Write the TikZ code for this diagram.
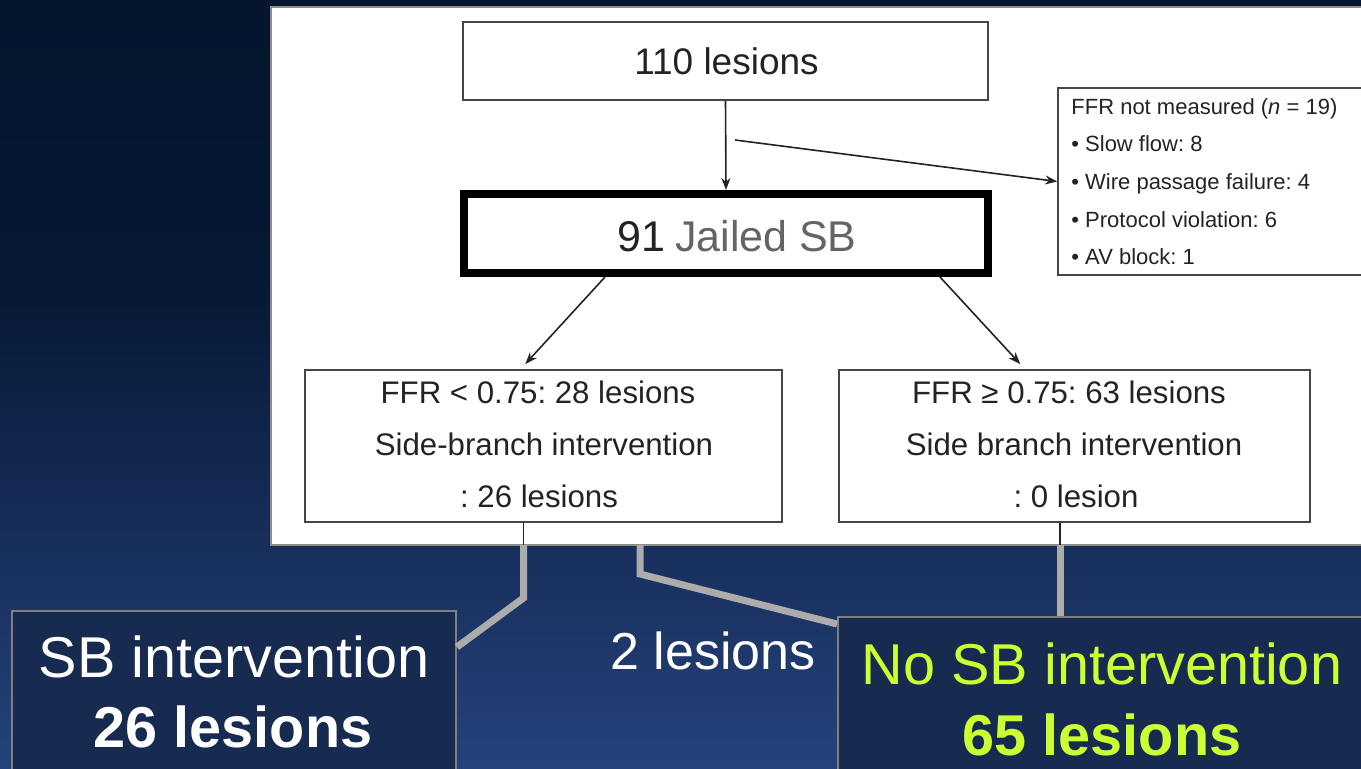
\documentclass[tikz,border=0pt]{standalone}
\usepackage{fontspec}
\setmainfont{Liberation Sans}
\usetikzlibrary{arrows.meta,calc}
\AtBeginDocument{\frenchspacing}

\definecolor{bgtop}{RGB}{5,21,46}
\definecolor{bgknee}{RGB}{7,24,52}
\definecolor{bgbot}{RGB}{37,66,124}
\definecolor{panelgrey}{RGB}{140,140,140}
\definecolor{boxgrey}{RGB}{70,70,70}
\definecolor{inkdark}{RGB}{35,35,35}
\definecolor{jailgrey}{RGB}{100,100,100}
\definecolor{conngrey}{RGB}{172,172,172}
\definecolor{slatefill}{RGB}{23,42,80}
\definecolor{slateedge}{RGB}{128,128,128}
\definecolor{lime}{RGB}{204,255,51}

% slide background: dark at the top, brightening towards the bottom
\pgfdeclareverticalshading{slidebg}{100bp}{color(0bp)=(bgbot); color(25bp)=(bgbot); color(56.8bp)=(bgknee); color(75bp)=(bgtop); color(100bp)=(bgtop)}

\tikzset{
  flowbox/.style={draw=boxgrey, line width=0.8pt, fill=white, inner sep=0pt},
  heavybox/.style={draw=black, line width=4pt, fill=white, inner sep=0pt},
  slatebox/.style={draw=slateedge, line width=1pt, fill=slatefill, inner sep=0pt},
  flow/.style={draw=inkdark, line width=0.8pt, -{Stealth[length=6pt,width=4.5pt]}},
  tick/.style={draw=inkdark, line width=0.9pt},
  gconn/.style={draw=conngrey, line width=3.5pt},
  lbl/.style={anchor=base, inner sep=0pt, text=inkdark},
}

\begin{document}
\begin{tikzpicture}[x=0.5pt, y=-0.5pt]
\useasboundingbox (0,0) rectangle (1361,769);
\clip (0,0) rectangle (1361,769);
\shade[shading=slidebg] (0,0) rectangle (1361,769);

% white flowchart panel
\path[draw=panelgrey, line width=1pt, fill=white] (271,7) rectangle (1390,545);
\coordinate (panelbase) at (271,545);

% flowchart boxes
\node[flowbox, minimum width=262.5pt, minimum height=39pt] (n110) at (725.5,61) {};
\node[heavybox, minimum width=262pt, minimum height=39.5pt] (n91) at (726,233.5) {};
\node[flowbox, minimum width=161pt, minimum height=93.5pt] (nm) at (1219,181.5) {};
\node[flowbox, minimum width=238.5pt, minimum height=76pt] (lffr) at (543.5,446) {};
\node[flowbox, minimum width=235.5pt, minimum height=76pt] (rffr) at (1074.5,446) {};

% box texts
\node[lbl, font=\fontsize{18.5}{22}\selectfont] (t110) at (726.5,75) {110 lesions};
\node[lbl, font=\fontsize{21.5}{26}\selectfont] (t91) at (737,252) {91\hspace{5pt}\textcolor{jailgrey}{Jailed SB}};

\begin{scope}[every node/.style={lbl, anchor=base west, font=\fontsize{11}{13}\selectfont}]
  \node (nm1) at (1071,115) {FFR not measured (\textit{n} = 19)};
  \node (nm2) at (1071,152) {• Slow flow: 8};
  \node (nm3) at (1071,190) {• Wire passage failure: 4};
  \node (nm4) at (1071,228) {• Protocol violation: 6};
  \node (nm5) at (1071,265) {• AV block: 1};
\end{scope}

\begin{scope}[every node/.style={lbl, font=\fontsize{15.6}{18}\selectfont}]
  \node (l1) at (538,404) {FFR < 0.75: 28 lesions};
  \node (l2) at (544,456) {Side-branch intervention};
  \node (l3) at (539,508) {: 26 lesions};
  \node (r1) at (1069,404) {FFR ≥ 0.75: 63 lesions};
  \node (r2) at (1074,456) {Side branch intervention};
  \node (r3) at (1076,508) {: 0 lesion};
\end{scope}

% arrows inside the panel
\draw[flow] (n110.south) -- (n91.north);
\coordinate (split) at (735,140);
\draw[flow] (split) -- (nm.west);
\draw[flow, shorten >=3.5pt] ($(n91.south)+(-121,0)$) -- ($(lffr.north)+(-23,0)$);
\draw[flow, shorten >=3.5pt] ($(n91.south)+(214,0)$) -- ($(rffr.north)+(-49.5,0)$);

% stubs below the FFR boxes
\coordinate (lt) at ($(lffr.south)+(-20,0)$);
\coordinate (rt) at ($(rffr.south)+(-14.5,0)$);
\draw[tick] (lt) -- (lt |- panelbase);
\draw[tick] (rt) -- (rt |- panelbase);

% outcome boxes
\node[slatebox, minimum width=222pt, minimum height=89.5pt] (sb) at (234,700.5) {};
\node[slatebox, minimum width=271pt, minimum height=86.5pt] (nosb) at (1109,703.5) {};

% grey connectors to the outcomes
\coordinate (mid) at (640,545);
\draw[gconn] (lt |- panelbase) -- ++(0,53) -- ($(sb.north east)+(0,37)$);
\draw[gconn] (mid) -- ++(0,29) -- ($(nosb.north west)+(0,8)$);
\draw[gconn] (rt |- panelbase) -- (rt |- nosb.north);

% outcome texts
\node[lbl, text=white, font=\fontsize{28.8}{34}\selectfont] (sb1) at (234,678) {SB intervention};
\node[lbl, text=white, font=\fontsize{28.8}{34}\selectfont\bfseries] (sb2) at (233,748) {26 lesions};
\node[lbl, text=white, font=\fontsize{26}{30}\selectfont] (two) at (713,670) {2 lesions};
\node[lbl, text=lime, font=\fontsize{28.8}{34}\selectfont] (nb1) at (1102,685) {No SB intervention};
\node[lbl, text=lime, font=\fontsize{28.8}{34}\selectfont\bfseries] (nb2) at (1102,755) {65 lesions};
\end{tikzpicture}
\end{document}
